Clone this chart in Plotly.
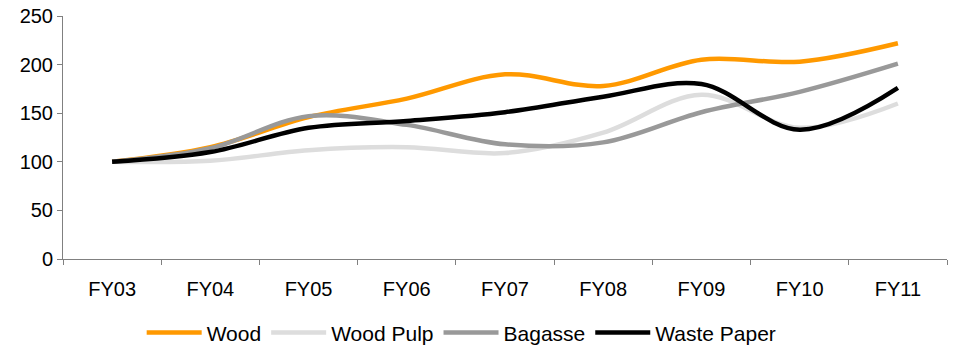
import plotly.graph_objects as go

years = ["FY03", "FY04", "FY05", "FY06", "FY07", "FY08", "FY09", "FY10", "FY11"]
wood = [100, 115, 146, 165, 190, 178, 205, 203, 222]
wood_pulp = [100, 101, 112, 115, 109, 130, 169, 135, 160]
bagasse = [100, 114, 147, 138, 118, 120, 151, 172, 201]
waste_paper = [100, 110, 135, 142, 151, 167, 180, 133, 176]

series = [
    ("Wood", wood, "#FF9900"),
    ("Wood Pulp", wood_pulp, "#DDDDDD"),
    ("Bagasse", bagasse, "#999999"),
    ("Waste Paper", waste_paper, "#000000"),
]

fig = go.Figure()
for name, vals, color in series:
    fig.add_trace(go.Scatter(
        x=years, y=vals, name=name, mode="lines",
        line=dict(color=color, width=4.5, shape="spline", smoothing=1.0),
    ))

font = "Liberation Sans, Arial, sans-serif"
fig.update_layout(
    width=957, height=349,
    margin=dict(l=63, r=10, t=16, b=90, autoexpand=False),
    paper_bgcolor="white", plot_bgcolor="white",
    font=dict(family=font, size=20, color="black"),
    showlegend=True,
    legend=dict(
        orientation="h", x=0.089, xanchor="left",
        yref="container", y=0.046, yanchor="middle",
        font=dict(size=21), itemwidth=55, tracegroupgap=0,
    ),
    xaxis=dict(
        type="category", range=[-0.5, 8.5], tickson="boundaries",
        ticks="outside", ticklen=5, tickcolor="#808080",
        showline=True, linecolor="#808080", linewidth=1,
        showgrid=False, zeroline=False, tickfont=dict(size=20),
        ticklabelstandoff=12,
    ),
    yaxis=dict(
        range=[0, 250], dtick=50, ticks="outside", ticklen=5,
        tickcolor="#808080", showline=True, linecolor="#808080",
        linewidth=1, showgrid=False, zeroline=False, tickfont=dict(size=20),
    ),
)

fig.write_html("out.html")
